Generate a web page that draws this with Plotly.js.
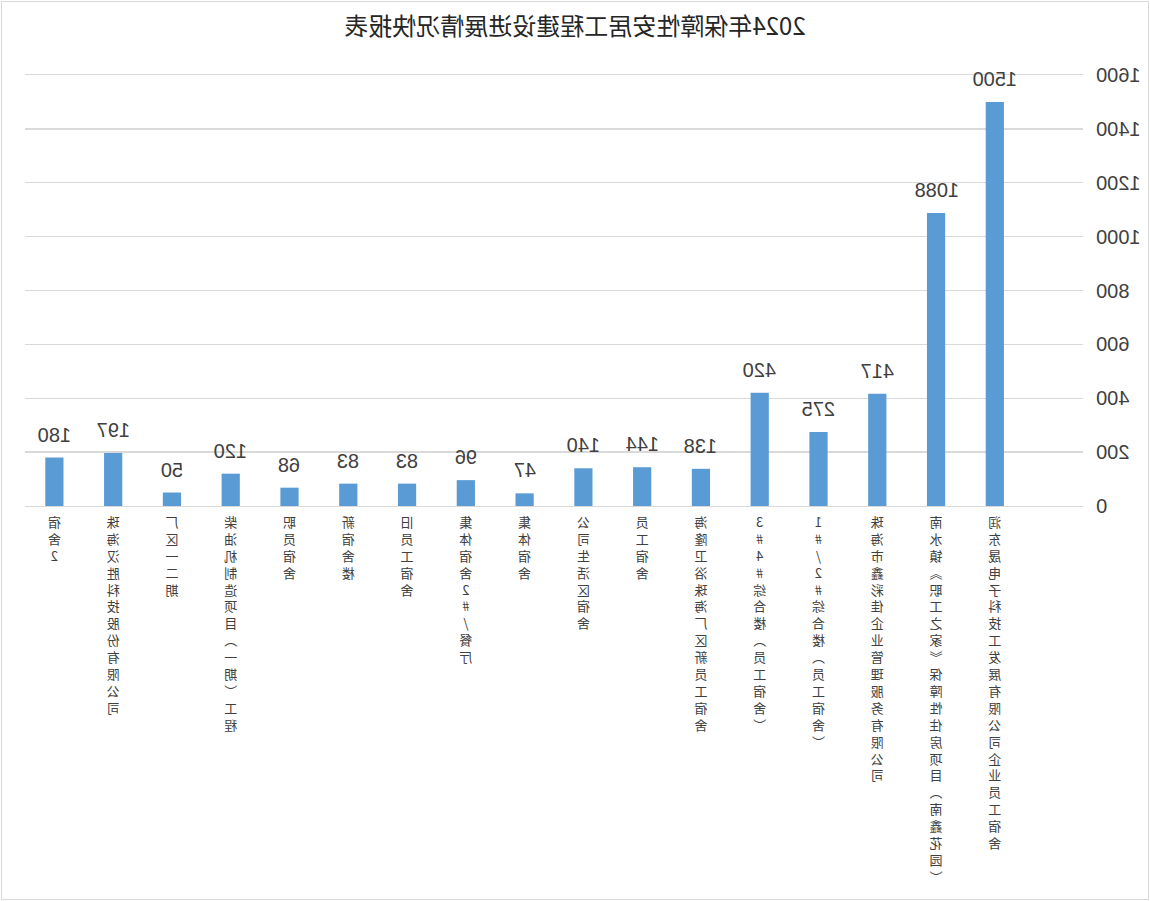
<!DOCTYPE html>
<html>
<head>
<meta charset="utf-8">
<script src="https://cdn.plot.ly/plotly-3.0.1.min.js"></script>
<style>
  body { margin: 0; background: #fff; }
  #wrap { position: relative; width: 1150px; height: 901px; }
  /* la imagen de referencia está espejada: se voltea todo el gráfico */
  #chart { width: 1150px; height: 901px; transform: scaleX(-1); }
  #marco { position: absolute; left: 1px; top: 1px; right: 1px; bottom: 1px;
           border: 1px solid #d9d9d9; pointer-events: none; }
</style>
</head>
<body>
<div id="wrap">
  <div id="chart"></div>
  <div id="marco"></div>
</div>
<script>
const TITULO = '2024年保障性安居工程建设进展情况快报表';

// orden original (sin espejar): de izquierda a derecha
const proyectos = [
  '润东晟电子科技工发展有限公司企业员工宿舍',
  '南水镇《职工之家》保障性住房项目（南鑫花园）',
  '珠海市鑫彩佳企业管理服务有限公司',
  '1#/2#综合楼（员工宿舍）',
  '3#4#综合楼（员工宿舍）',
  '海隆卫浴珠海厂区新员工宿舍',
  '员工宿舍',
  '公司生活区宿舍',
  '集体宿舍',
  '集体宿舍2#/餐厅',
  '旧员工宿舍',
  '新宿舍楼',
  '职员宿舍',
  '柴油机制造项目（一期）工程',
  '厂区一二期',
  '珠海汉胜科技股份有限公司',
  '宿舍2',
];
const cantidades = [1500, 1088, 417, 275, 420, 138, 144, 140, 47, 96, 83, 83, 68, 120, 50, 197, 180];
const ticksY = [0, 200, 400, 600, 800, 1000, 1200, 1400, 1600];

// texto vertical: un carácter por renglón
const VERTICAL = { '（': '︵', '）': '︶', '《': '︽', '》': '︾' };
const apilar = (s) => Array.from(s).map((c) => VERTICAL[c] || c).join('<br>');

const FUENTE_NUM = '"Liberation Sans Narrow", "Liberation Sans", Arial, sans-serif';
const FUENTE_CJK = '"Noto Sans CJK SC", "Noto Sans", sans-serif';

const barras = {
  type: 'bar',
  x: proyectos,
  y: cantidades,
  marker: { color: '#5b9bd5' },
  hoverinfo: 'skip',
};

const etiquetas = proyectos.map((p, i) => ({
  x: p, y: cantidades[i],
  xref: 'x', yref: 'y',
  yanchor: 'bottom', yshift: 10,
  text: String(cantidades[i]),
  showarrow: false,
  font: { family: FUENTE_NUM, size: 20, color: '#404040' },
}));

const layout = {
  width: 1150,
  height: 901,
  margin: { l: 67, r: 25, t: 75, b: 395 },
  bargap: 0.69,
  showlegend: false,
  title: {
    text: TITULO,
    font: { family: FUENTE_CJK, size: 24, color: '#262626' },
    x: 0.5, xanchor: 'center',
    yref: 'container', y: 0.97, yanchor: 'middle',
  },
  xaxis: {
    type: 'category',
    range: [-1.5, 16.5],
    tickmode: 'array',
    tickvals: proyectos,
    ticktext: proyectos.map(apilar),
    tickangle: 0,
    ticks: '',
    ticklabelstandoff: 4,
    showgrid: false,
    showline: true,
    mirror: true, // línea superior = cuadrícula de 1600
    linecolor: '#d9d9d9',
    linewidth: 1.3,
    tickfont: { family: FUENTE_CJK, size: 13, color: '#404040' },
  },
  yaxis: {
    range: [0, 1600],
    tickmode: 'array',
    tickvals: ticksY,
    ticks: '',
    ticklabelstandoff: 12,
    showgrid: true,
    gridcolor: '#d9d9d9',
    gridwidth: 1.3,
    zeroline: false,
    tickfont: { family: FUENTE_NUM, size: 20, color: '#404040' },
  },
  annotations: etiquetas,
  paper_bgcolor: '#ffffff',
  plot_bgcolor: '#ffffff',
};

Plotly.newPlot('chart', [barras], layout, { displayModeBar: false, staticPlot: true });
</script>
</body>
</html>
